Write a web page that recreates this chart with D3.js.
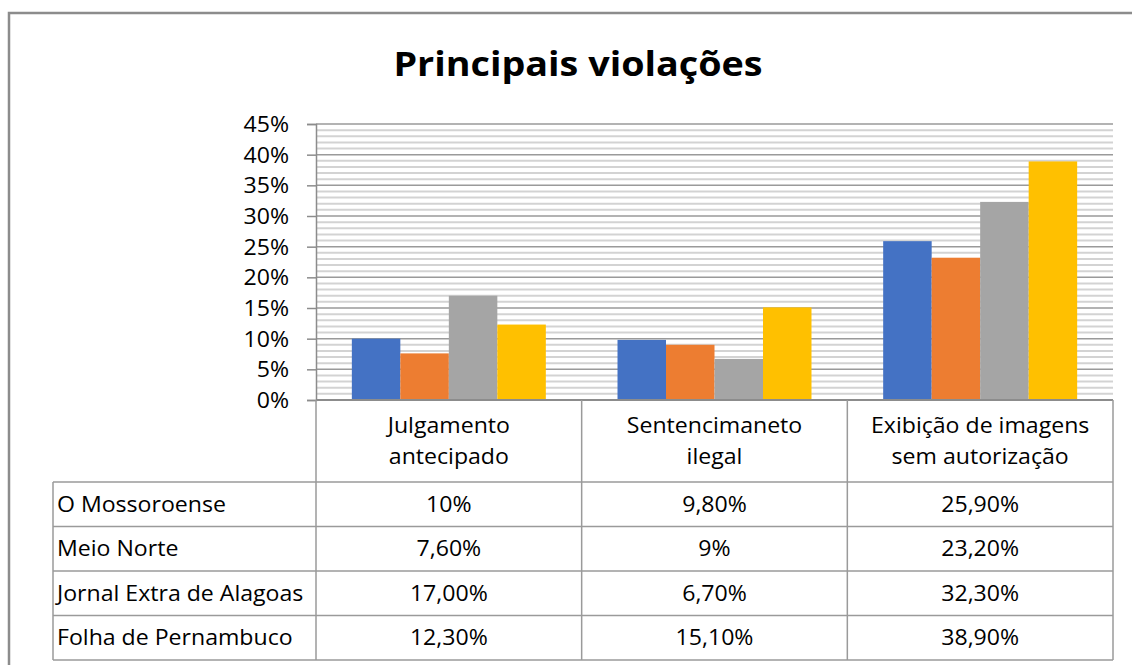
<!DOCTYPE html>
<html>
<head>
<meta charset="utf-8">
<script src="https://cdn.jsdelivr.net/npm/d3@7/dist/d3.min.js"></script>
<style>
  html, body { margin: 0; padding: 0; background: #fff; }
  svg { display: block; }
  text { font-family: "Open Sans", "Noto Sans", sans-serif; fill: #000; }
</style>
</head>
<body>
<svg id="chart" width="1132" height="665"></svg>
<script>
// ---- data ----
const title = "Principais violações";
const categories = ["Julgamento antecipado", "Sentencimaneto ilegal", "Exibição de imagens sem autorização"];
const categoryLines = [["Julgamento", "antecipado"], ["Sentencimaneto", "ilegal"], ["Exibição de imagens", "sem autorização"]];
const seriesNames = ["O Mossoroense", "Meio Norte", "Jornal Extra de Alagoas", "Folha de Pernambuco"];
const oMossoroense = [10, 9.8, 25.9];
const meioNorte = [7.6, 9, 23.2];
const jornalExtra = [17, 6.7, 32.3];
const folhaPernambuco = [12.3, 15.1, 38.9];
const seriesValues = [oMossoroense, meioNorte, jornalExtra, folhaPernambuco];
const labelsMossoroense = ["10%", "9,80%", "25,90%"];
const labelsMeioNorte = ["7,60%", "9%", "23,20%"];
const labelsJornalExtra = ["17,00%", "6,70%", "32,30%"];
const labelsFolha = ["12,30%", "15,10%", "38,90%"];
const tableLabels = [labelsMossoroense, labelsMeioNorte, labelsJornalExtra, labelsFolha];
const yTicks = [0, 5, 10, 15, 20, 25, 30, 35, 40, 45];
const yMinorTicks = d3.range(0, 46, 1);
const colors = ["#4472C4", "#ED7D31", "#A5A5A5", "#FFC000"];

// ---- layout ----
const svg = d3.select("#chart");
const plotLeft = 316, plotRight = 1113, plotTop = 124, plotBottom = 400;
const tableLeft = 53;
const headerBottom = 482;
const rowH = 44.5;
const SX = 1.1; // horizontal text stretch
const FS = 21;

function addText(g, x, y, s, opt = {}) {
  return g.append("text")
    .attr("transform", `translate(${x},${y}) scale(${opt.sx || SX},1)`)
    .attr("text-anchor", opt.anchor || "start")
    .attr("dy", opt.dy || "0.35em")
    .style("font-size", (opt.size || FS) + "px")
    .style("font-weight", opt.weight || "normal")
    .text(s);
}

// outer chart border (only left/top visible)
svg.append("rect")
  .attr("x", 9).attr("y", 13).attr("width", 1200).attr("height", 800)
  .attr("fill", "none").attr("stroke", "#8c8c8c").attr("stroke-width", 2.5);

// title
addText(svg, 578, 76, title, { anchor: "middle", dy: "0", size: 34, weight: "bold", sx: 1.11 });

const x0 = d3.scaleBand().domain(categories).range([plotLeft, plotRight]).paddingInner(0).paddingOuter(0);
const x1 = d3.scaleBand().domain(seriesNames).range([0, x0.bandwidth()]).paddingInner(0).paddingOuter(0.739);
const y = d3.scaleLinear().domain([0, 45]).range([plotBottom, plotTop]);

// gridlines
const grid = svg.append("g");
grid.selectAll("line.minor")
  .data(yMinorTicks.filter(d => d % 5 !== 0))
  .join("line")
  .attr("x1", plotLeft).attr("x2", plotRight)
  .attr("y1", d => y(d)).attr("y2", d => y(d))
  .attr("stroke", "#d3d3d3").attr("stroke-width", 2);
grid.selectAll("line.major")
  .data(yTicks.filter(d => d > 0))
  .join("line")
  .attr("x1", plotLeft).attr("x2", plotRight)
  .attr("y1", d => y(d)).attr("y2", d => y(d))
  .attr("stroke", "#9a9a9a").attr("stroke-width", 1.5);

// y axis
const yAxis = svg.append("g").attr("transform", `translate(${plotLeft},0)`)
  .call(d3.axisLeft(y).tickValues(yTicks).tickSize(9).tickFormat(d => d + "%"));
yAxis.select(".domain").attr("stroke", "#8c8c8c").attr("stroke-width", 1.5);
yAxis.selectAll(".tick line").attr("stroke", "#8c8c8c").attr("stroke-width", 1.5);
yAxis.selectAll(".tick text").remove();
yAxis.selectAll(".tick").each(function(d) {
  addText(d3.select(this), -27, 0, d + "%", { anchor: "end" });
});

// bars
const barG = svg.append("g");
seriesNames.forEach((s, si) => {
  barG.selectAll(null)
    .data(seriesValues[si].map((v, ci) => ({ v, c: categories[ci] })))
    .join("rect")
    .attr("x", d => x0(d.c) + x1(s))
    .attr("width", x1.bandwidth())
    .attr("y", d => y(d.v))
    .attr("height", d => y(0) - y(d.v))
    .attr("fill", colors[si]);
});

// x axis line
svg.append("line")
  .attr("x1", plotLeft).attr("x2", plotRight)
  .attr("y1", plotBottom).attr("y2", plotBottom)
  .attr("stroke", "#8c8c8c").attr("stroke-width", 2);

// data table
const tbl = svg.append("g");
const tableBottom = headerBottom + rowH * seriesNames.length;
const colEdges = categories.map(c => x0(c)).concat([plotRight]);
colEdges.forEach(xv => {
  tbl.append("line")
    .attr("x1", xv).attr("x2", xv)
    .attr("y1", plotBottom).attr("y2", tableBottom)
    .attr("stroke", "#9a9a9a").attr("stroke-width", 1.5);
});
tbl.append("line")
  .attr("x1", tableLeft).attr("x2", tableLeft)
  .attr("y1", headerBottom).attr("y2", tableBottom)
  .attr("stroke", "#9a9a9a").attr("stroke-width", 1.5);
d3.range(seriesNames.length + 1).forEach(i => {
  const yy = headerBottom + i * rowH;
  tbl.append("line")
    .attr("x1", tableLeft).attr("x2", plotRight)
    .attr("y1", yy).attr("y2", yy)
    .attr("stroke", "#9a9a9a").attr("stroke-width", 1.5);
});

// header labels
categories.forEach((c, ci) => {
  const cx = x0(c) + x0.bandwidth() / 2;
  const lines = categoryLines[ci];
  addText(tbl, cx, 426, lines[0], { anchor: "middle" });
  addText(tbl, cx, 457, lines[1], { anchor: "middle" });
});

// row labels & values
seriesNames.forEach((s, si) => {
  const cy = headerBottom + si * rowH + rowH / 2;
  addText(tbl, 57, cy, s, { anchor: "start" });
  categories.forEach((c, ci) => {
    addText(tbl, x0(c) + x0.bandwidth() / 2, cy, tableLabels[si][ci], { anchor: "middle" });
  });
});
</script>
</body>
</html>
